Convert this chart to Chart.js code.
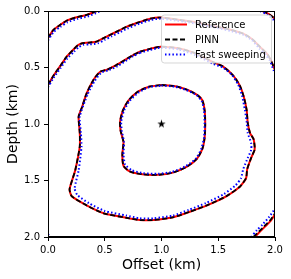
<!DOCTYPE html>
<html>
<head>
<meta charset="utf-8">
<script src="https://cdn.jsdelivr.net/npm/chart.js@4.4.1/dist/chart.umd.min.js"></script>
<style>
  html, body { margin: 0; padding: 0; background: #fff; }
</style>
</head>
<body>
<canvas id="chart" width="291" height="279"></canvas>
<script>
// Traveltime contours, points are [offset km, depth km]
const seriesNames = ['Reference', 'PINN', 'Fast sweeping'];
const axisTicks = [0.0, 0.5, 1.0, 1.5, 2.0];
const sourcePoint = [1.0, 1.0];

// innermost closed contour
const refInner = [
  [1.00, 0.655], [1.12, 0.665], [1.22, 0.695], [1.31, 0.74], [1.36, 0.79], [1.38, 0.88],
  [1.385, 1.00], [1.38, 1.12], [1.36, 1.22], [1.31, 1.31], [1.22, 1.38], [1.10, 1.43],
  [0.97, 1.45], [0.83, 1.445], [0.72, 1.42], [0.665, 1.37], [0.655, 1.27], [0.665, 1.16],
  [0.64, 1.06], [0.635, 0.98], [0.66, 0.88], [0.71, 0.79], [0.79, 0.715], [0.89, 0.67], [1.00, 0.655]
];
const fsInner = [
  [1.00, 0.66], [1.12, 0.67], [1.22, 0.70], [1.31, 0.745], [1.355, 0.80], [1.375, 0.88],
  [1.38, 1.00], [1.375, 1.12], [1.35, 1.22], [1.30, 1.31], [1.21, 1.375], [1.09, 1.425],
  [0.97, 1.44], [0.84, 1.435], [0.74, 1.41], [0.68, 1.36], [0.665, 1.27], [0.67, 1.16],
  [0.65, 1.06], [0.645, 0.98], [0.67, 0.88], [0.72, 0.795], [0.80, 0.72], [0.89, 0.675], [1.00, 0.66]
];

// second closed contour
const refMid = [
  [0.81, 0.36], [0.90, 0.335], [0.99, 0.316], [1.15, 0.33], [1.30, 0.375], [1.46, 0.455],
  [1.54, 0.49], [1.63, 0.57], [1.69, 0.66], [1.725, 0.76], [1.75, 0.876], [1.76, 0.99],
  [1.78, 1.08], [1.81, 1.13], [1.82, 1.19], [1.82, 1.23], [1.79, 1.30], [1.755, 1.40],
  [1.745, 1.48], [1.69, 1.555], [1.57, 1.64], [1.40, 1.72], [1.25, 1.776], [1.10, 1.826],
  [0.93, 1.85], [0.81, 1.85], [0.69, 1.83], [0.49, 1.79], [0.34, 1.72], [0.21, 1.64],
  [0.19, 1.58], [0.215, 1.49], [0.24, 1.41], [0.28, 1.20], [0.28, 1.08], [0.27, 0.935],
  [0.30, 0.85], [0.34, 0.73], [0.40, 0.61], [0.46, 0.537], [0.52, 0.52], [0.60, 0.48],
  [0.75, 0.39], [0.81, 0.36]
];
const fsMid = [
  [0.81, 0.37], [0.90, 0.345], [0.99, 0.325], [1.15, 0.34], [1.30, 0.39], [1.46, 0.47],
  [1.54, 0.50], [1.62, 0.565], [1.675, 0.65], [1.71, 0.75], [1.735, 0.876], [1.75, 0.98],
  [1.76, 1.08], [1.79, 1.17], [1.79, 1.23], [1.76, 1.30], [1.72, 1.40], [1.70, 1.48],
  [1.65, 1.545], [1.55, 1.62], [1.39, 1.70], [1.24, 1.76], [1.10, 1.81], [0.93, 1.835],
  [0.81, 1.835], [0.69, 1.81], [0.50, 1.77], [0.36, 1.70], [0.26, 1.63], [0.235, 1.57],
  [0.27, 1.41], [0.295, 1.20], [0.29, 1.08], [0.28, 0.935], [0.35, 0.735], [0.41, 0.62],
  [0.47, 0.545], [0.53, 0.525], [0.61, 0.49], [0.75, 0.40], [0.81, 0.37]
];

// third contour, open from left edge to right edge
const refOuter = [
  [0.0, 0.655], [0.05, 0.57], [0.106, 0.49], [0.16, 0.41], [0.22, 0.345], [0.26, 0.305],
  [0.30, 0.286], [0.36, 0.28], [0.43, 0.27], [0.49, 0.24], [0.55, 0.21], [0.62, 0.175],
  [0.69, 0.14], [0.80, 0.10], [0.90, 0.068], [0.99, 0.058], [1.20, 0.085], [1.35, 0.11],
  [1.49, 0.14], [1.62, 0.17], [1.72, 0.20], [1.80, 0.25], [1.87, 0.32], [1.93, 0.38],
  [1.96, 0.43], [2.0, 0.52]
];
const fsOuter = [
  [0.0, 0.675], [0.05, 0.59], [0.11, 0.505], [0.17, 0.42], [0.23, 0.36], [0.27, 0.32],
  [0.31, 0.30], [0.37, 0.295], [0.44, 0.285], [0.50, 0.255], [0.56, 0.225], [0.63, 0.19],
  [0.70, 0.155], [0.81, 0.11], [0.91, 0.078], [0.99, 0.068], [1.20, 0.095], [1.35, 0.12],
  [1.49, 0.15], [1.62, 0.18], [1.72, 0.21], [1.80, 0.26], [1.86, 0.33], [1.92, 0.39],
  [1.955, 0.44], [1.99, 0.53]
];

// fourth contour, top-left corner
const refCornerTL = [
  [0.0, 0.24], [0.047, 0.168], [0.106, 0.124], [0.165, 0.086], [0.25, 0.056], [0.34, 0.035], [0.43, 0.0]
];
const fsCornerTL = [
  [0.0, 0.26], [0.05, 0.185], [0.11, 0.14], [0.17, 0.10], [0.26, 0.07], [0.35, 0.048], [0.42, 0.02], [0.46, 0.0]
];

// small pieces at the other corners
const refCornerTR = [[1.89, 0.0], [1.95, 0.03], [2.0, 0.07]];
const fsCornerTR = [[1.87, 0.0], [1.93, 0.03], [1.99, 0.08], [2.0, 0.09]];
const refCornerBR = [[1.82, 2.0], [1.87, 1.95], [1.91, 1.91], [1.96, 1.86], [2.0, 1.80]];
const pinnCornerBR = [[1.81, 2.0], [1.86, 1.95], [1.905, 1.905], [1.955, 1.855], [2.0, 1.79]];
const fsCornerBR = [[1.79, 2.0], [1.84, 1.94], [1.89, 1.89], [1.95, 1.82], [2.0, 1.75]];
const fsCornerBL = [[0.0, 1.975], [0.025, 2.0]];

const FONT = "'DejaVu Sans', sans-serif";

const refStyle = { borderColor: '#ff0000', borderWidth: 2, borderDash: [], order: 3 };
const pinnStyle = { borderColor: '#000000', borderWidth: 1.8, borderDash: [5, 2.5], order: 2 };
const fsStyle = { borderColor: '#0000ff', borderWidth: 2, borderDash: [1.5, 2.2], order: 1 };

function toPoints(arr) {
    return arr.map(p => ({ x: p[0], y: p[1] }));
}

function contour(arr, style) {
    return {
        data: toPoints(arr),
        showLine: true,
        fill: false,
        tension: 0.2,
        pointRadius: 0,
        pointHoverRadius: 0,
        borderCapStyle: 'butt',
        ...style
    };
}

/**
 * Filled five point star, like the matplotlib '*' marker
 */
function makeStar(r) {
    const s = Math.ceil(r * 2 + 2);
    const c = document.createElement('canvas');
    c.width = s;
    c.height = s;
    const g = c.getContext('2d');
    g.beginPath();
    for (let i = 0; i < 10; i++) {
        const rad = i % 2 === 0 ? r : r * 0.38;
        const ang = -Math.PI / 2 + i * Math.PI / 5;
        g.lineTo(s / 2 + rad * Math.cos(ang), s / 2 + rad * Math.sin(ang));
    }
    g.closePath();
    g.fillStyle = '#000';
    g.fill();
    return c;
}

const datasets = [
    contour(refInner, refStyle), contour(refMid, refStyle), contour(refOuter, refStyle),
    contour(refCornerTL, refStyle), contour(refCornerTR, refStyle), contour(refCornerBR, refStyle),
    contour(refInner, pinnStyle), contour(refMid, pinnStyle), contour(refOuter, pinnStyle),
    contour(refCornerTL, pinnStyle), contour(refCornerTR, pinnStyle), contour(pinnCornerBR, pinnStyle),
    contour(fsInner, fsStyle), contour(fsMid, fsStyle), contour(fsOuter, fsStyle),
    contour(fsCornerTL, fsStyle), contour(fsCornerTR, fsStyle), contour(fsCornerBR, fsStyle),
    contour(fsCornerBL, fsStyle),
    {
        data: [{ x: sourcePoint[0], y: sourcePoint[1] }],
        pointStyle: makeStar(4.4),
        pointRadius: 5,
        showLine: false,
        order: 0
    }
];

const legendStyles = [refStyle, pinnStyle, fsStyle];

// frame on all four sides plus the legend box in the upper right
const framePlugin = {
    id: 'frameAndLegend',
    afterDraw(chart) {
        const ctx = chart.ctx;
        const a = chart.chartArea;
        ctx.save();
        ctx.strokeStyle = '#000';
        ctx.lineWidth = 1;
        ctx.strokeRect(Math.round(a.left) + 0.5, Math.round(a.top) + 0.5,
            Math.round(a.right - a.left) - 1, Math.round(a.bottom - a.top) - 1);

        const w = 110, h = 48;
        const x0 = a.right - 3.5 - w;
        const y0 = a.top + 4;
        ctx.beginPath();
        ctx.roundRect(x0, y0, w, h, 3);
        ctx.fillStyle = 'rgba(255,255,255,0.8)';
        ctx.fill();
        ctx.strokeStyle = 'rgba(204,204,204,0.8)';
        ctx.stroke();

        seriesNames.forEach((name, i) => {
            const st = legendStyles[i];
            const y = y0 + 9.5 + i * 15;
            ctx.beginPath();
            ctx.strokeStyle = st.borderColor;
            ctx.lineWidth = st.borderWidth;
            ctx.setLineDash(st.borderDash);
            ctx.moveTo(x0 + 3.5, y);
            ctx.lineTo(x0 + 25.5, y);
            ctx.stroke();
            ctx.setLineDash([]);
            ctx.fillStyle = '#000';
            ctx.font = '10px ' + FONT;
            ctx.textBaseline = 'middle';
            ctx.fillText(name, x0 + 33.5, y + 0.5);
        });
        ctx.restore();
    }
};

const axisCommon = {
    type: 'linear',
    min: 0,
    max: 2,
    border: { display: true, color: '#000', width: 1 },
    grid: { drawOnChartArea: false, drawTicks: true, tickLength: 4, color: '#000', lineWidth: 1 },
    afterBuildTicks(scale) {
        scale.ticks = axisTicks.map(v => ({ value: v }));
    }
};

new Chart(document.getElementById('chart'), {
    type: 'scatter',
    data: { datasets },
    options: {
        responsive: false,
        animation: false,
        events: [],
        layout: { padding: { top: 11, right: 16, left: 0, bottom: 0 } },
        plugins: { legend: { display: false }, tooltip: { enabled: false } },
        scales: {
            x: {
                ...axisCommon,
                position: 'bottom',
                ticks: { color: '#000', font: { family: FONT, size: 10 }, padding: 3, maxRotation: 0,
                    callback: v => v.toFixed(1) },
                title: { display: true, text: 'Offset (km)', color: '#000',
                    font: { family: FONT, size: 14 }, padding: { top: 0, bottom: 5 } },
                afterFit(scale) { scale.height = 42; }
            },
            y: {
                ...axisCommon,
                position: 'left',
                reverse: true,
                ticks: { color: '#000', font: { family: FONT, size: 10 }, padding: 4,
                    callback: v => v.toFixed(1) },
                title: { display: true, text: 'Depth (km)', color: '#000',
                    font: { family: FONT, size: 14 }, padding: { top: 5, bottom: 0 } },
                afterFit(scale) { scale.width = 48; }
            }
        }
    },
    plugins: [framePlugin]
});
</script>
</body>
</html>
